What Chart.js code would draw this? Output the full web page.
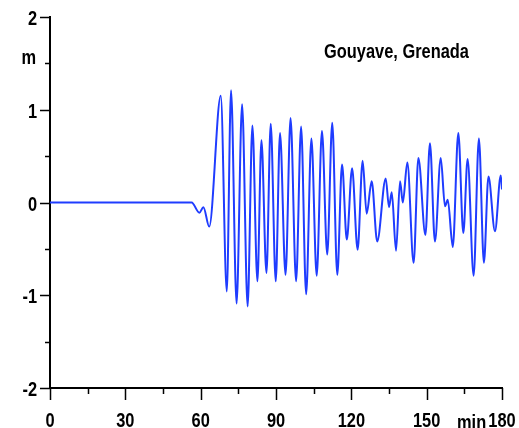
<!DOCTYPE html>
<html>
<head>
<meta charset="utf-8">
<script src="https://cdn.jsdelivr.net/npm/chart.js@4/dist/chart.umd.min.js"></script>
<style>
  body { margin: 0; background: #fff; }
  #wrap { width: 519px; height: 428px; }
</style>
</head>
<body>
<div id="wrap"><canvas id="tideChart" width="519" height="428"></canvas></div>
<script>
// minutes after start, local extrema of the record
const times = [0, 56.4, 59.5, 61.1, 63.4, 68.0, 70.4, 72.1, 74.3, 76.5, 78.7, 80.6, 82.6, 84.2, 86.2,
  87.9, 89.9, 91.6, 93.8, 95.8, 98.0, 100.0, 102.0, 104.1, 106.2, 108.3, 110.4, 112.4, 114.4,
  116.3, 118.2, 120.3, 122.5, 124.5, 126.1, 128.1, 130.3, 133.7, 135.0, 136.1, 137.8, 139.4,
  140.5, 142.3, 144.8, 146.7, 149.5, 151.3, 153.3, 155.6, 157.3, 158.4, 160.4, 162.6, 164.6,
  166.3, 168.7, 170.8, 172.8, 174.6, 177.2, 179.5, 180];
// sea level (m)
const heights = [0, 0, -0.11, -0.05, -0.26, 1.15, -0.96, 1.21, -1.09, 1.06, -1.12, 0.83, -0.85, 0.67, -0.76,
  0.85, -0.85, 0.75, -0.78, 0.91, -0.85, 0.82, -0.99, 0.69, -0.79, 0.77, -0.56, 0.86, -0.78,
  0.41, -0.40, 0.37, -0.51, 0.45, -0.12, 0.23, -0.42, 0.26, -0.05, 0.11, -0.52, 0.23,
  0.0, 0.43, -0.65, 0.48, -0.35, 0.64, -0.42, 0.48, -0.04, 0.03, -0.48, 0.75, -0.33,
  0.47, -0.79, 0.69, -0.65, 0.28, -0.31, 0.29, 0.14];

const xTicks = [0, 30, 60, 90, 120, 150, 180];
const yTicks = [-2, -1, 0, 1, 2];
const titleText = 'Gouyave, Grenada';
const yUnit = 'm';
const xUnit = 'min';

const FONT = "bold 20px 'Liberation Sans', Arial, sans-serif";
const SQUEEZE = 0.82; // the original lettering is a narrow face

// narrow text: squeeze horizontally around the anchor point
function narrowText(ctx, text, x, y, align) {
  ctx.save();
  ctx.translate(x, y);
  ctx.scale(SQUEEZE, 1);
  ctx.textAlign = align;
  ctx.fillText(text, 0, 0);
  ctx.restore();
}

// tick marks (long on labelled values, short halfway), tick labels, units and title
const decorPlugin = {
  id: 'decor',
  afterDraw(chart) {
    const ctx = chart.ctx;
    const xs = chart.scales.x, ys = chart.scales.y;
    const area = chart.chartArea;
    ctx.save();
    ctx.strokeStyle = '#000';
    ctx.lineWidth = 1.5;
    ctx.beginPath();
    for (let v = 0; v <= 180; v += 15) {
      const px = Math.round(xs.getPixelForValue(v)) + 0.5;
      const len = v % 30 === 0 ? 12 : 6;
      ctx.moveTo(px, area.bottom);
      ctx.lineTo(px, area.bottom + len);
    }
    for (let v = -2; v <= 2; v += 0.5) {
      const py = Math.round(ys.getPixelForValue(v)) + 0.5;
      const len = Number.isInteger(v) ? 10 : 5;
      ctx.moveTo(area.left, py);
      ctx.lineTo(area.left - len, py);
    }
    ctx.stroke();

    ctx.fillStyle = '#000';
    ctx.font = FONT;
    ctx.textBaseline = 'alphabetic';
    xTicks.forEach(v => narrowText(ctx, String(v), xs.getPixelForValue(v), 427, 'center'));
    yTicks.forEach(v => narrowText(ctx, String(v), 37, ys.getPixelForValue(v) + 8, 'right'));
    narrowText(ctx, yUnit, 36, 64, 'right');
    narrowText(ctx, xUnit, 457, 429, 'left');
    narrowText(ctx, titleText, 324, 58, 'left');
    ctx.restore();
  }
};

function initializeChart() {
  const ctx = document.getElementById('tideChart').getContext('2d');
  new Chart(ctx, {
    type: 'line',
    data: {
      datasets: [{
        data: times.map((t, i) => ({ x: t, y: heights[i] })),
        borderColor: '#1f3cff',
        borderWidth: 2,
        pointRadius: 0,
        cubicInterpolationMode: 'monotone',
        fill: false
      }]
    },
    options: {
      responsive: false,
      animation: false,
      layout: { padding: { top: 17, right: 17, left: 0, bottom: 0 } },
      plugins: {
        legend: { display: false },
        tooltip: { enabled: false }
      },
      scales: {
        x: {
          type: 'linear',
          min: 0,
          max: 180,
          afterFit: s => { s.height = 40; s.paddingLeft = 0; s.paddingRight = 0; },
          grid: { display: false },
          border: { display: true, color: '#000', width: 2 },
          ticks: { display: false }
        },
        y: {
          min: -2,
          max: 2,
          afterFit: s => { s.width = 50; s.paddingTop = 0; s.paddingBottom = 0; },
          grid: { display: false },
          border: { display: true, color: '#000', width: 2 },
          ticks: { display: false }
        }
      }
    },
    plugins: [decorPlugin]
  });
}

document.addEventListener('DOMContentLoaded', initializeChart);
</script>
</body>
</html>
